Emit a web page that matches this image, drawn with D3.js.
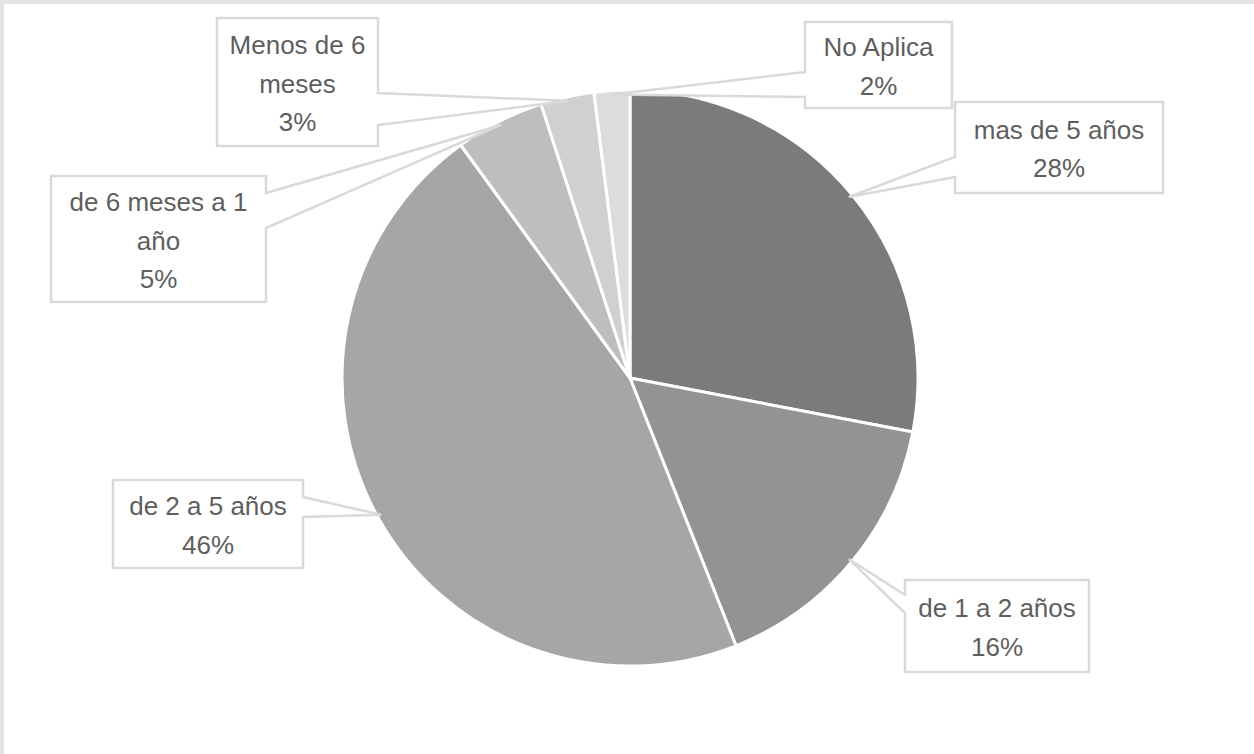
<!DOCTYPE html>
<html>
<head>
<meta charset="utf-8">
<script src="https://cdn.jsdelivr.net/npm/d3@7"></script>
<style>
  body { margin: 0; background: #fff; }
  text { font-family: "Liberation Sans", Arial, sans-serif; }
</style>
</head>
<body>
<div id="chart"></div>
<script>
// data, clockwise from 12 o'clock
var categories = ["mas de 5 años", "de 1 a 2 años", "de 2 a 5 años", "de 6 meses a 1 año", "Menos de 6 meses", "No Aplica"];
var values = [28, 16, 46, 5, 3, 2];
var labelLines = [
    ["mas de 5 años"],
    ["de 1 a 2 años"],
    ["de 2 a 5 años"],
    ["de 6 meses a 1", "año"],
    ["Menos de 6", "meses"],
    ["No Aplica"]
];
var sliceColors = ["#7b7b7b", "#939393", "#a6a6a6", "#bebebe", "#d0d0d0", "#dcdcdc"];

// callout boxes: x, y, w, h, side of wedge, wedge base (y from, y to)
var callouts = [
    { x: 955, y: 102, w: 208, h: 91,  side: "left",  b1: 157, b2: 177 },
    { x: 905, y: 580, w: 184, h: 92,  side: "left",  b1: 595, b2: 613 },
    { x: 113, y: 480, w: 190, h: 88,  side: "right", b1: 497, b2: 517 },
    { x: 51,  y: 176, w: 215, h: 126, side: "right", b1: 193, b2: 228 },
    { x: 217, y: 18,  w: 161, h: 128, side: "right", b1: 93,  b2: 125 },
    { x: 805, y: 22,  w: 147, h: 86,  side: "left",  b1: 72,  b2: 97 }
];

var width = 1254, height = 754,
    cx = 630, cy = 378, radius = 288,
    fontSize = 26, lineStep = 38.5;

var svg = d3.select("#chart").append("svg")
    .attr("width", width)
    .attr("height", height);

// frame on left / top edges
svg.append("rect").attr("x", 0).attr("y", 0).attr("width", width).attr("height", 4).attr("fill", "#e3e3e3");
svg.append("rect").attr("x", 0).attr("y", 0).attr("width", 4).attr("height", height).attr("fill", "#e3e3e3");

var data = categories.map(function(c, i){
    return { name: c, value: values[i], lines: labelLines[i].concat([values[i] + "%"]), color: sliceColors[i], box: callouts[i] };
});

var pie = d3.pie().sort(null).value(function(d){ return d.value; });
var arcs = pie(data);

var arc = d3.arc().innerRadius(0).outerRadius(radius);
var tipArc = d3.arc().innerRadius(radius - 4).outerRadius(radius - 4);

var g = svg.append("g").attr("transform", "translate(" + cx + "," + cy + ")");

g.selectAll(".slice")
    .data(arcs)
    .enter()
    .append("path")
    .attr("class", "slice")
    .attr("d", arc)
    .attr("fill", function(d){ return d.data.color; })
    .attr("stroke", "#fff")
    .attr("stroke-width", 3)
    .attr("stroke-linejoin", "round");

function calloutPath(d){
    var b = d.data.box;
    var c = tipArc.centroid(d);
    var tx = cx + c[0], ty = cy + c[1];
    var x0 = b.x, x1 = b.x + b.w, y0 = b.y, y1 = b.y + b.h;
    var p = d3.path();
    if (b.side === "left") {
        p.moveTo(x0, y0); p.lineTo(x1, y0); p.lineTo(x1, y1); p.lineTo(x0, y1);
        p.lineTo(x0, b.b2); p.lineTo(tx, ty); p.lineTo(x0, b.b1);
    } else {
        p.moveTo(x0, y0); p.lineTo(x1, y0); p.lineTo(x1, b.b1); p.lineTo(tx, ty);
        p.lineTo(x1, b.b2); p.lineTo(x1, y1); p.lineTo(x0, y1);
    }
    p.closePath();
    return p.toString();
}

var labels = svg.selectAll(".callout")
    .data(arcs)
    .enter()
    .append("g")
    .attr("class", "callout");

labels.append("path")
    .attr("d", calloutPath)
    .attr("fill", "#fff")
    .attr("stroke", "#d9d9d9")
    .attr("stroke-width", 2.5)
    .attr("stroke-linejoin", "miter");

labels.each(function(d){
    var b = d.data.box, n = d.data.lines.length;
    var midY = b.y + b.h / 2 + 1.5;
    d3.select(this).selectAll("text")
        .data(d.data.lines)
        .enter()
        .append("text")
        .attr("x", b.x + b.w / 2)
        .attr("y", function(t, i){ return midY + (i - (n - 1) / 2) * lineStep + 9; })
        .attr("text-anchor", "middle")
        .attr("font-size", fontSize)
        .attr("fill", "#5e5e5e")
        .text(function(t){ return t; });
});
</script>
</body>
</html>
